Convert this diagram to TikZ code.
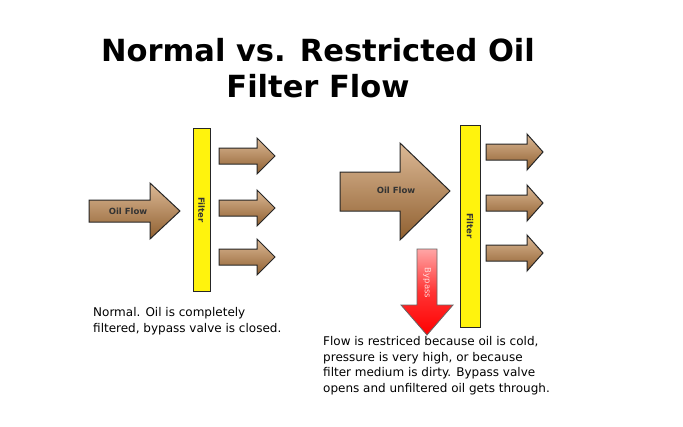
\documentclass[tikz,border=0pt]{standalone}
\usepackage{fontspec}
\setmainfont{DejaVu Sans}
\begin{document}
\begin{tikzpicture}[x=1pt,y=-1pt,
 brown/.style={draw=black!85,line width=1pt,top color=brown!55!white,bottom color=brown!75!black,shading angle=0},
 bp/.style={draw=black!60,line width=0.8pt,top color=red!35!white,bottom color=red,middle color=red!80!white},
 filt/.style={draw=black!85,line width=1pt,fill=yellow!95!white},
 lab/.style={font=\bfseries\fontsize{8.5}{9}\selectfont,text=black!80},
 captxt/.style={font=\fontsize{12}{15.8}\selectfont,align=left,anchor=north west,inner sep=0}]
\useasboundingbox (0,0) rectangle (683,426);
\node[font=\bfseries\fontsize{30.5}{36}\selectfont,align=center] (t) at (318,68) {Normal vs. Restricted Oil\\Filter Flow};
% left
\draw[brown] (89,200) -- (150,200) -- (150,183) -- (180,211) -- (150,239) -- (150,222) -- (89,222) -- cycle;
\node[lab] (lf) at (128,211) {Oil Flow};
\draw[filt] (193,128) rectangle (210,291);
\node[lab,rotate=-90] (lfl) at (201.5,210) {Filter};
\foreach \y/\n in {156/a,208/b,257/c}{
 \draw[brown] (219,\y-8) -- (257,\y-8) -- (257,\y-18) -- (275,\y) -- (257,\y+18) -- (257,\y+8) -- (219,\y+8) -- cycle;}
\node[captxt] (lc) at (93,307) {Normal. Oil is completely\\filtered, bypass valve is closed.};
% right
\draw[brown] (340,172) -- (400,172) -- (400,143) -- (450,191) -- (400,240) -- (400,211) -- (340,211) -- cycle;
\node[lab] (rf) at (396,190) {Oil Flow};
\draw[filt] (460,125) rectangle (480,327);
\node[lab,rotate=-90] (rfl) at (470,226) {Filter};
\foreach \y in {152,203,253}{
 \draw[brown] (486,\y-8) -- (527,\y-8) -- (527,\y-18) -- (543,\y) -- (527,\y+18) -- (527,\y+8) -- (486,\y+8) -- cycle;}
\draw[bp] (417,249) -- (437,249) -- (437,305) -- (453,305) -- (427,335) -- (401,305) -- (417,305) -- cycle;
\node[font=\fontsize{8.5}{9}\selectfont,text=white!85!red,rotate=-90] (bpl) at (427,283) {Bypass};
\node[captxt] (rc) at (323,336) {Flow is restriced because oil is cold,\\pressure is very high, or because\\filter medium is dirty. Bypass valve\\opens and unfiltered oil gets through.};
\end{tikzpicture}
\end{document}
